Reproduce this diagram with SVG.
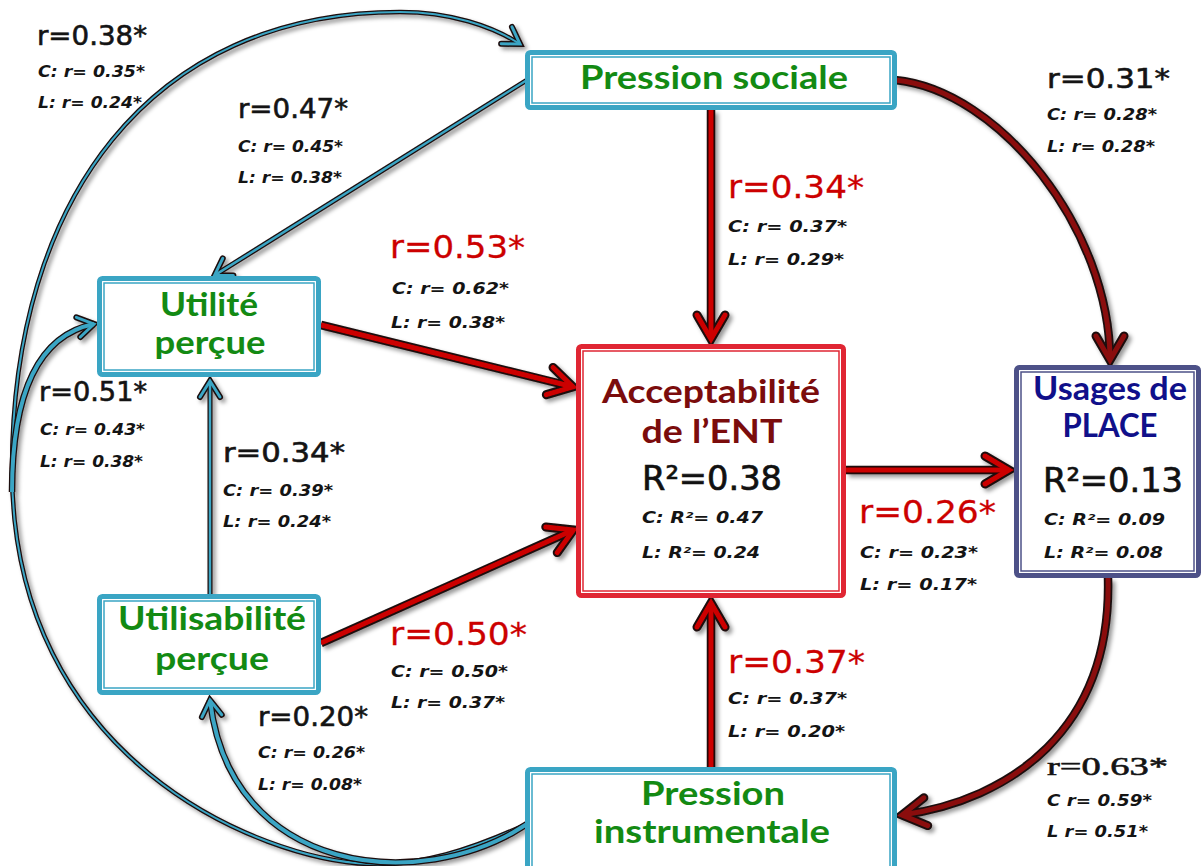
<svg xmlns="http://www.w3.org/2000/svg" width="1203" height="866" viewBox="0 0 1203 866">
<defs>
<style>
.lb{font-family:"DejaVu Sans","Liberation Sans",sans-serif;fill:#141414;font-size:26px;stroke:#141414;stroke-width:0.6}
.rd{font-family:"DejaVu Sans","Liberation Sans",sans-serif;fill:#cc0000;font-size:32px;stroke:#cc0000;stroke-width:0.3}
.sm{font-family:"DejaVu Sans","Liberation Sans",sans-serif;font-weight:bold;font-style:italic;font-size:16px;fill:#141414}
.nd{font-family:Lato,"Open Sans",sans-serif;font-weight:bold;font-size:33px;text-anchor:middle}
.gr{fill:#138a13}
.r2{font-family:"DejaVu Sans","Liberation Sans",sans-serif;font-size:34px;fill:#111;text-anchor:middle;stroke:#111;stroke-width:0.7}
.tb{fill:#fff;stroke:#3aa5c4;stroke-width:5}
.ti{fill:none;stroke:#3aa5c4;stroke-width:1.5}
.u{fill:none;stroke:#1a0a0a}
.cr{fill:none;stroke:#cc0000;stroke-width:5}
.cd{fill:none;stroke:#8a0d0d;stroke-width:5}
.ct{fill:none;stroke:#3aa5c4}
</style>
<filter id="sh" x="-10%" y="-10%" width="120%" height="120%">
<feDropShadow dx="3" dy="3" stdDeviation="2" flood-color="#000" flood-opacity="0.4"/>
</filter>
<marker id="mRu" markerUnits="userSpaceOnUse" viewBox="-40 -25 55 50" markerWidth="55" markerHeight="50" refX="0" refY="0" orient="auto"><path d="M-24,-14 L0,0 L-24,14" fill="none" stroke="#1a0a0a" stroke-width="9" stroke-linecap="round"/></marker>
<marker id="mR" markerUnits="userSpaceOnUse" viewBox="-40 -25 55 50" markerWidth="55" markerHeight="50" refX="0" refY="0" orient="auto"><path d="M-24,-14 L0,0 L-24,14" fill="none" stroke="#cc0000" stroke-width="5" stroke-linecap="round"/></marker>
<marker id="mD" markerUnits="userSpaceOnUse" viewBox="-40 -25 55 50" markerWidth="55" markerHeight="50" refX="0" refY="0" orient="auto"><path d="M-24,-14 L0,0 L-24,14" fill="none" stroke="#8a0d0d" stroke-width="5" stroke-linecap="round"/></marker>
<marker id="mTu" markerUnits="userSpaceOnUse" viewBox="-30 -20 40 40" markerWidth="40" markerHeight="40" refX="0" refY="0" orient="auto"><path d="M-16,-10 L0,0 L-16,10" fill="none" stroke="#1a0a0a" stroke-width="6" stroke-linecap="round"/></marker>
<marker id="mT" markerUnits="userSpaceOnUse" viewBox="-30 -20 40 40" markerWidth="40" markerHeight="40" refX="0" refY="0" orient="auto"><path d="M-16,-10 L0,0 L-16,10" fill="none" stroke="#3aa5c4" stroke-width="3" stroke-linecap="round"/></marker>
</defs>
<rect x="0" y="0" width="1203" height="866" fill="#fff"/>

<g id="connectors" filter="url(#sh)">
  <path class="u" stroke-width="4.5" marker-end="url(#mTu)" d="M527,824 C470,850 420,866 370,864 C260,860 12,760 12,470 C12,200 150,12 400,12 C450,12 492,26 520,44"/>
  <path class="ct" stroke-width="2" marker-end="url(#mT)" d="M527,824 C470,850 420,866 370,864 C260,860 12,760 12,470 C12,200 150,12 400,12 C450,12 492,26 520,44"/>
  <path class="u" stroke-width="6.5" marker-end="url(#mTu)" d="M12,492 C12,390 40,335 94,324"/>
  <path class="ct" stroke-width="4" marker-end="url(#mT)" d="M12,492 C12,390 40,335 94,324"/>
  <path class="u" stroke-width="6.5" marker-end="url(#mTu)" d="M527,824 C420,895 230,875 210,700"/>
  <path class="ct" stroke-width="4" marker-end="url(#mT)" d="M527,824 C420,895 230,875 210,700"/>
  <path class="u" stroke-width="5" marker-end="url(#mTu)" d="M527,80 L214.5,275.4"/>
  <path class="ct" stroke-width="2.5" marker-end="url(#mT)" d="M527,80 L214.5,275.4"/>
  <path class="u" stroke-width="5" marker-end="url(#mTu)" d="M210,594 L210,381"/>
  <path class="ct" stroke-width="2.5" marker-end="url(#mT)" d="M210,594 L210,381"/>
  <path class="u" stroke-width="8.5" marker-end="url(#mRu)" d="M321,325 L573,386.8"/>
  <path class="cr" marker-end="url(#mR)" d="M321,325 L573,386.8"/>
  <path class="u" stroke-width="8.5" marker-end="url(#mRu)" d="M321,643 L573.4,530"/>
  <path class="cr" marker-end="url(#mR)" d="M321,643 L573.4,530"/>
  <path class="u" stroke-width="8.5" marker-end="url(#mRu)" d="M711,110 L711,339"/>
  <path class="cr" marker-end="url(#mR)" d="M711,110 L711,339"/>
  <path class="u" stroke-width="8.5" marker-end="url(#mRu)" d="M711,767 L711,603"/>
  <path class="cr" marker-end="url(#mR)" d="M711,767 L711,603"/>
  <path class="u" stroke-width="8.5" marker-end="url(#mRu)" d="M846,470 L1009,470"/>
  <path class="cr" marker-end="url(#mR)" d="M846,470 L1009,470"/>
  <path class="u" stroke-width="8.5" marker-end="url(#mRu)" d="M895,80 C1000,90 1110,230 1110,360"/>
  <path class="cd" marker-end="url(#mD)" d="M895,80 C1000,90 1110,230 1110,360"/>
  <path class="u" stroke-width="8.5" marker-end="url(#mRu)" d="M1108,578 C1112,730 1010,800 902,815"/>
  <path class="cd" marker-end="url(#mD)" d="M1108,578 C1112,730 1010,800 902,815"/>
</g>

<g id="pression-sociale">
  <rect class="tb" x="527.5" y="52.5" width="367" height="55" rx="3"/>
  <rect class="ti" x="532" y="57" width="358" height="46"/>
  <text class="nd gr" x="714" y="89" textLength="268" lengthAdjust="spacingAndGlyphs">Pression sociale</text>
</g>

<g id="utilite-percue">
  <rect class="tb" x="99.5" y="278.5" width="219" height="96" rx="3"/>
  <rect class="ti" x="104" y="283" width="210" height="87"/>
  <text class="nd gr" x="209" y="316" textLength="98" lengthAdjust="spacingAndGlyphs">Utilité</text>
  <text class="nd gr" x="210" y="354" textLength="111" lengthAdjust="spacingAndGlyphs">perçue</text>
</g>

<g id="utilisabilite-percue">
  <rect class="tb" x="99.5" y="596.5" width="219" height="96" rx="3"/>
  <rect class="ti" x="104" y="601" width="210" height="87"/>
  <text class="nd gr" x="212" y="630" textLength="188" lengthAdjust="spacingAndGlyphs">Utilisabilité</text>
  <text class="nd gr" x="212" y="670" textLength="114" lengthAdjust="spacingAndGlyphs">perçue</text>
</g>

<g id="acceptabilite">
  <rect x="578.5" y="346.5" width="265" height="249" rx="3" fill="#fff" stroke="#e02633" stroke-width="5"/>
  <rect x="583" y="351" width="256" height="240" fill="none" stroke="#e02633" stroke-width="1.5"/>
  <text class="nd" fill="#7b0c0c" x="711" y="403" textLength="218" lengthAdjust="spacingAndGlyphs">Acceptabilité</text>
  <text class="nd" fill="#7b0c0c" x="712" y="443" textLength="141" lengthAdjust="spacingAndGlyphs">de l’ENT</text>
  <text class="r2" x="712" y="490" textLength="140" lengthAdjust="spacingAndGlyphs">R²=0.38</text>
  <text class="sm" x="642" y="523" textLength="121" lengthAdjust="spacingAndGlyphs">C: R²= 0.47</text>
  <text class="sm" x="642" y="558" textLength="118" lengthAdjust="spacingAndGlyphs">L: R²= 0.24</text>
</g>

<g id="usages-place">
  <rect x="1016.5" y="367.5" width="182" height="208" rx="3" fill="#fff" stroke="#4d5188" stroke-width="5"/>
  <rect x="1021" y="372" width="173" height="199" fill="none" stroke="#4d5188" stroke-width="1.5"/>
  <text class="nd" fill="#10108a" font-size="27" x="1110" y="400" textLength="154" lengthAdjust="spacingAndGlyphs">Usages de</text>
  <text class="nd" fill="#10108a" font-size="27" x="1110" y="437" textLength="95" lengthAdjust="spacingAndGlyphs">PLACE</text>
  <text class="r2" x="1113" y="492" textLength="140" lengthAdjust="spacingAndGlyphs">R²=0.13</text>
  <text class="sm" x="1044" y="525" textLength="121" lengthAdjust="spacingAndGlyphs">C: R²= 0.09</text>
  <text class="sm" x="1044" y="558" textLength="119" lengthAdjust="spacingAndGlyphs">L: R²= 0.08</text>
</g>

<g id="pression-instrumentale">
  <rect class="tb" x="527.5" y="769.5" width="367" height="110" rx="3"/>
  <rect class="ti" x="532" y="774" width="358" height="101"/>
  <text class="nd gr" x="713" y="805" textLength="144" lengthAdjust="spacingAndGlyphs">Pression</text>
  <text class="nd gr" x="712" y="843" textLength="236" lengthAdjust="spacingAndGlyphs">instrumentale</text>
</g>

<g id="labels">
  <text class="lb" x="37" y="45" textLength="110" lengthAdjust="spacingAndGlyphs">r=0.38*</text>
  <text class="sm" x="38" y="77" textLength="107" lengthAdjust="spacingAndGlyphs">C: r= 0.35*</text>
  <text class="sm" x="38" y="108" textLength="104" lengthAdjust="spacingAndGlyphs">L: r= 0.24*</text>

  <text class="lb" x="238" y="118" textLength="110" lengthAdjust="spacingAndGlyphs">r=0.47*</text>
  <text class="sm" x="238" y="152" textLength="105" lengthAdjust="spacingAndGlyphs">C: r= 0.45*</text>
  <text class="sm" x="238" y="183" textLength="104" lengthAdjust="spacingAndGlyphs">L: r= 0.38*</text>

  <text class="rd" x="390" y="258" textLength="135" lengthAdjust="spacingAndGlyphs">r=0.53*</text>
  <text class="sm" font-size="17" x="392" y="294" textLength="117" lengthAdjust="spacingAndGlyphs">C: r= 0.62*</text>
  <text class="sm" font-size="17" x="391" y="328" textLength="114" lengthAdjust="spacingAndGlyphs">L: r= 0.38*</text>

  <text class="rd" x="728" y="198" textLength="136" lengthAdjust="spacingAndGlyphs">r=0.34*</text>
  <text class="sm" font-size="17" x="728" y="232" textLength="119" lengthAdjust="spacingAndGlyphs">C: r= 0.37*</text>
  <text class="sm" font-size="17" x="728" y="265" textLength="116" lengthAdjust="spacingAndGlyphs">L: r= 0.29*</text>

  <text class="lb" font-size="28" x="1047" y="88" textLength="123" lengthAdjust="spacingAndGlyphs">r=0.31*</text>
  <text class="sm" x="1047" y="120" textLength="110" lengthAdjust="spacingAndGlyphs">C: r= 0.28*</text>
  <text class="sm" x="1047" y="152" textLength="108" lengthAdjust="spacingAndGlyphs">L: r= 0.28*</text>

  <text class="lb" x="39" y="401" textLength="108" lengthAdjust="spacingAndGlyphs">r=0.51*</text>
  <text class="sm" x="40" y="435" textLength="105" lengthAdjust="spacingAndGlyphs">C: r= 0.43*</text>
  <text class="sm" x="40" y="467" textLength="103" lengthAdjust="spacingAndGlyphs">L: r= 0.38*</text>

  <text class="lb" font-size="28" x="223" y="462" textLength="122" lengthAdjust="spacingAndGlyphs">r=0.34*</text>
  <text class="sm" x="223" y="496" textLength="110" lengthAdjust="spacingAndGlyphs">C: r= 0.39*</text>
  <text class="sm" x="223" y="527" textLength="108" lengthAdjust="spacingAndGlyphs">L: r= 0.24*</text>

  <text class="rd" x="859" y="523" textLength="137" lengthAdjust="spacingAndGlyphs">r=0.26*</text>
  <text class="sm" font-size="17" x="860" y="558" textLength="118" lengthAdjust="spacingAndGlyphs">C: r= 0.23*</text>
  <text class="sm" font-size="17" x="860" y="590" textLength="117" lengthAdjust="spacingAndGlyphs">L: r= 0.17*</text>

  <text class="rd" x="390" y="645" textLength="137" lengthAdjust="spacingAndGlyphs">r=0.50*</text>
  <text class="sm" font-size="17" x="391" y="677" textLength="117" lengthAdjust="spacingAndGlyphs">C: r= 0.50*</text>
  <text class="sm" font-size="17" x="391" y="708" textLength="114" lengthAdjust="spacingAndGlyphs">L: r= 0.37*</text>

  <text class="rd" x="728" y="673" textLength="137" lengthAdjust="spacingAndGlyphs">r=0.37*</text>
  <text class="sm" font-size="17" x="728" y="704" textLength="119" lengthAdjust="spacingAndGlyphs">C: r= 0.37*</text>
  <text class="sm" font-size="17" x="728" y="737" textLength="117" lengthAdjust="spacingAndGlyphs">L: r= 0.20*</text>

  <text class="lb" x="258" y="726" textLength="110" lengthAdjust="spacingAndGlyphs">r=0.20*</text>
  <text class="sm" x="258" y="758" textLength="107" lengthAdjust="spacingAndGlyphs">C: r= 0.26*</text>
  <text class="sm" x="258" y="790" textLength="104" lengthAdjust="spacingAndGlyphs">L: r= 0.08*</text>

  <text class="lb" font-size="32" x="1047" y="775" textLength="121" lengthAdjust="spacingAndGlyphs" style="font-family:'Liberation Serif',serif">r=0.63*</text>
  <text class="sm" x="1047" y="806" textLength="105" lengthAdjust="spacingAndGlyphs">C r= 0.59*</text>
  <text class="sm" x="1047" y="837" textLength="101" lengthAdjust="spacingAndGlyphs">L r= 0.51*</text>
</g>
</svg>
